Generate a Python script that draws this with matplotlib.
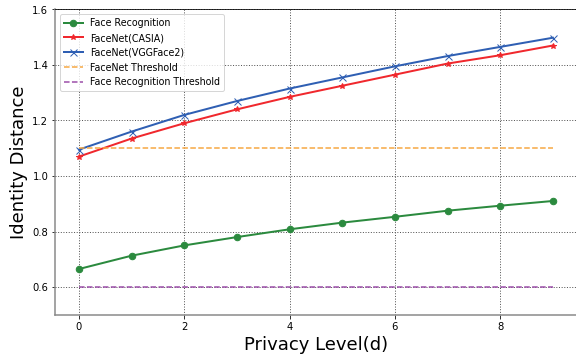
import matplotlib
matplotlib.use("Agg")
import matplotlib.pyplot as plt

levels = list(range(10))
face_recognition = [0.665, 0.713, 0.750, 0.780, 0.808, 0.832, 0.853, 0.875, 0.893, 0.910]
facenet_casia = [1.070, 1.135, 1.190, 1.240, 1.285, 1.325, 1.365, 1.405, 1.435, 1.470]
facenet_vgg = [1.095, 1.160, 1.220, 1.270, 1.315, 1.355, 1.395, 1.432, 1.465, 1.498]
facenet_threshold = 1.1
fr_threshold = 0.6

fig = plt.figure(figsize=(8, 4.99), dpi=72)
ax = fig.add_axes([0.096, 0.123, 0.905, 0.85])

ax.plot(levels, face_recognition, marker="o", markersize=6.5, linewidth=2,
        color="#2b8a3e", label="Face Recognition")
ax.plot(levels, facenet_casia, marker="*", markersize=6, linewidth=2,
        color="#f0282d", label="FaceNet(CASIA)")
ax.plot(levels, facenet_vgg, marker="x", markersize=7, linewidth=2,
        color="#2f5fb3", label="FaceNet(VGGFace2)")
ax.plot(levels, [facenet_threshold] * len(levels), "--", linewidth=1.5,
        color="#f7a740", label="FaceNet Threshold")
ax.plot(levels, [fr_threshold] * len(levels), "--", linewidth=1.5,
        color="#9a4ca8", label="Face Recognition Threshold")

ax.set_ylim(0.5, 1.6)
ax.set_xlabel("Privacy Level(d)", fontsize=18)
ax.set_ylabel("Identity Distance", fontsize=18)
ax.grid(True, linestyle=":", color="#555555", linewidth=1)
ax.tick_params(labelsize=10)
for s in ["left", "bottom"]:
    ax.spines[s].set_color("#888888")
    ax.spines[s].set_linewidth(1.5)
ax.legend(loc="upper left", fontsize=9.5)

fig.savefig("out.png", dpi=72)
